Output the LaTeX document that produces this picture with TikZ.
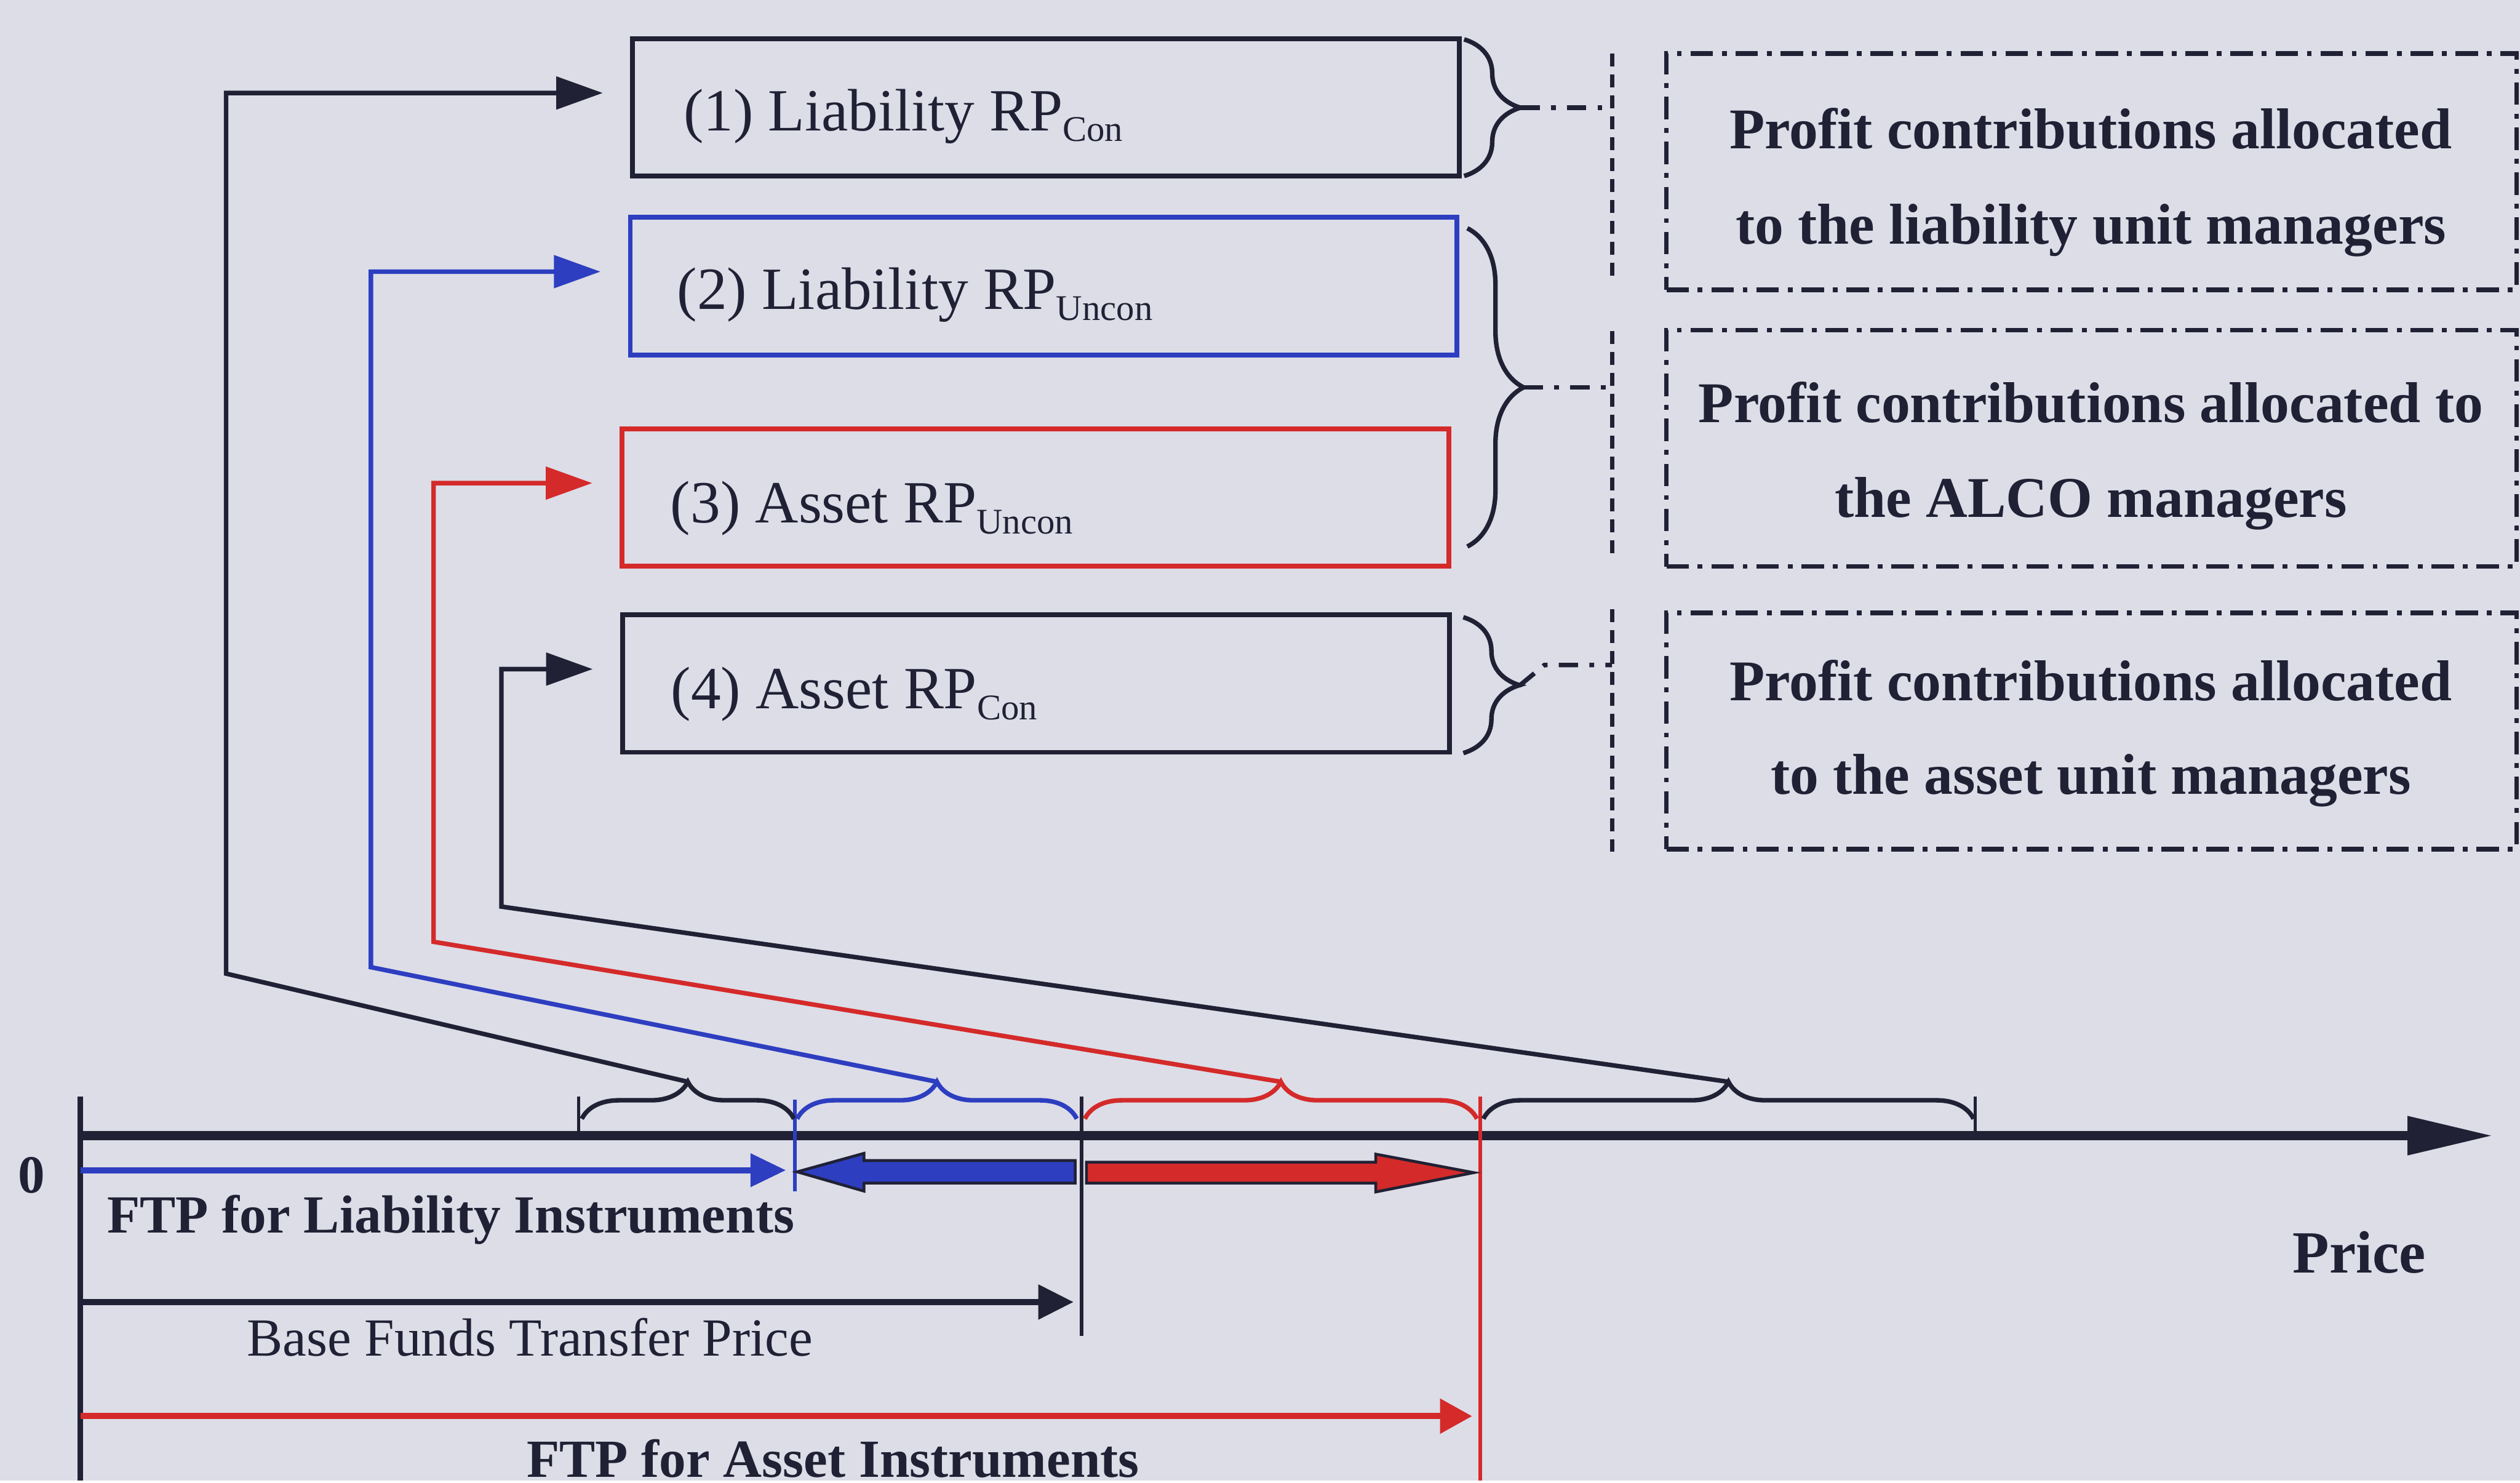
\documentclass[tikz,border=0pt]{standalone}
\usepackage{fontspec}
\setmainfont{Liberation Serif}
\usetikzlibrary{arrows.meta,decorations.pathreplacing}

\definecolor{ink}{RGB}{32,33,52}
\definecolor{lblue}{RGB}{45,62,192}
\definecolor{lred}{RGB}{212,42,42}
\definecolor{paper}{RGB}{220,221,231}

% small lowered subscript used in the RP labels
\newcommand\rpsub[1]{{\fontsize{6.4}{7}\selectfont\raisebox{-1.9pt}{#1}}}

\begin{document}
\begin{tikzpicture}[x=0.1mm,y=-0.1mm,
  conn/.style={line width=0.8pt},
  rpbox/.style={draw, line width=0.85pt, minimum width=51.45mm,
    minimum height=8.55mm, inner sep=0, outer sep=0},
  notebox/.style={draw=ink, line width=0.8pt,
    dash pattern=on 1.4mm off 0.55mm on 0.3mm off 0.55mm,
    minimum width=52.9mm, minimum height=14.7mm, inner sep=0, outer sep=0},
  dashdot/.style={draw=ink, line width=0.8pt,
    dash pattern=on 1.2mm off 0.7mm on 0.3mm off 0.7mm},
  sepline/.style={draw=ink, line width=0.75pt, dash pattern=on 0.8mm off 0.5mm},
  lbl/.style={inner sep=0, text=ink, anchor=base west,
    font=\fontsize{10.6}{12}\selectfont},
  note/.style={inner sep=0, text=ink, anchor=base,
    font=\fontsize{10.2}{12}\selectfont\bfseries},
  axtext/.style={inner sep=0, text=ink, font=\fontsize{9.5}{11}\selectfont},
  brc/.style={decorate, decoration={brace, amplitude=2.3mm}, line width=0.8pt},
  rbrc/.style={decorate, decoration={brace, amplitude=3.5mm}, line width=0.8pt, draw=ink},
  tick/.style={line width=0.6pt},
  ftp/.style={line width=1.1pt},
  fat/.style={draw=ink, line width=0.5pt, line join=miter},
  linehead/.style={-{Triangle[length=2.9mm,width=2mm]}}
]

% page
\fill[paper] (0,0) rectangle (1568,921);

% ---- the four risk-premium boxes ----
\node[rpbox, draw=ink]   (b1) at (650.85,66.85) {};
\node[rpbox, draw=lblue] (b2) at (649.4,178) {};
\node[rpbox, draw=lred]  (b3) at (644.3,309.55) {};
\node[rpbox, draw=ink]   (b4) at (644.55,425.25) {};

\node[lbl] (l1) at ([shift={(31,14.35)}]b1.west)   {(1) Liability RP\rpsub{Con}};
\node[lbl] (l2) at ([shift={(28.5,14.5)}]b2.west)  {(2) Liability RP\rpsub{Uncon}};
\node[lbl] (l3) at ([shift={(29.5,15.75)}]b3.west) {(3) Asset RP\rpsub{Uncon}};
\node[lbl] (l4) at ([shift={(29.5,15.75)}]b4.west) {(4) Asset RP\rpsub{Con}};

% ---- braces grouping the boxes ----
\draw[rbrc] (911,24.5) -- (911,109.5);
\draw[rbrc] (913,142) -- (913,340);
\draw[rbrc] (910.5,384) -- (910.5,468.5);

\coordinate (r1) at (946,67);
\coordinate (r2) at (948,241);
\coordinate (r3) at (945.5,426.5);
\coordinate (r3k) at (961,413.7);
\coordinate (s1) at (1003,67);
\coordinate (s2) at (1003,241);
\coordinate (s3) at (1003,413.7);

\draw[dashdot] (r1) -- (s1);
\draw[dashdot] (r2) -- (s2);
\draw[dashdot] (r3) -- (r3k) -- (s3);

% separators in front of the allocation boxes
\draw[sepline] (1003,33.5) -- (1003,173);
\draw[sepline] (1003,206) -- (1003,348);
\draw[sepline] (1003,379) -- (1003,531);

% ---- allocation boxes ----
\node[notebox] (n1) at (1301.35,106.75) {};
\node[notebox] (n2) at (1301.35,279) {};
\node[notebox] (n3) at (1301.35,454.75) {};

\node[note] (n1a) at (1301,92.4)  {Profit contributions allocated};
\node[note] (n1b) at (1301,151.7) {to the liability unit managers};
\node[note] (n2a) at (1301,262.9) {Profit contributions allocated to};
\node[note] (n2b) at (1301,321.8) {the ALCO managers};
\node[note] (n3a) at (1301,435.8) {Profit contributions allocated};
\node[note] (n3b) at (1301,494)   {to the asset unit managers};

% ---- price axis ----
\coordinate (o)  at (50,706.5);
\coordinate (pe) at (1551,706.5);
\draw[ink, line width=1.56pt, -{Triangle[length=5.3mm,width=2.3mm]}] (o) -- (pe);
\draw[ink, line width=0.9pt] (50,682) -- (50,921);

\node[axtext, font=\fontsize{9.5}{11}\selectfont\bfseries, anchor=base] (zero) at (19.5,742) {0};
\node[axtext, font=\fontsize{10.6}{12}\selectfont\bfseries, anchor=base west] (price) at (1426,792) {Price};

% tick marks
\draw[tick, ink]   (360,682) -- (360,706);
\draw[tick, lblue] (494.5,684) -- (494.5,741);
\draw[tick, ink]   (673,682) -- (673,831);
\draw[tick, lred]  (921,682) -- (921,921);
\draw[tick, ink]   (1229,682) -- (1229,706);

% braces on the axis
\draw[brc, ink]   (362,696) -- (494,696);
\draw[brc, lblue] (496,696) -- (670,696);
\draw[brc, lred]  (675,696) -- (919,696);
\draw[brc, ink]   (923,696) -- (1228,696);

\coordinate (t1) at (428,673);
\coordinate (t2) at (583,673);
\coordinate (t3) at (797,673);
\coordinate (t4) at (1075.5,673);

% ---- connectors from the axis braces to the boxes ----
\coordinate (k1) at (140.7,605.7);
\coordinate (k2) at (230.8,601.7);
\coordinate (k3) at (269.8,585.9);
\coordinate (k4) at (312,564);

\draw[conn, ink, linehead]   (t1) -- (k1) |- ([shift={(-18.5,-9)}]b1.west);
\draw[conn, lblue, linehead] (t2) -- (k2) |- ([shift={(-18.5,-9)}]b2.west);
\draw[conn, lred, linehead]  (t3) -- (k3) |- ([shift={(-18.5,-9)}]b3.west);
\draw[conn, ink, linehead]   (t4) -- (k4) |- ([shift={(-18.5,-9)}]b4.west);

% ---- transfer price arrows ----
\coordinate (fl) at (489,728);
\coordinate (fb) at (668,810);
\coordinate (fa) at (916,881);
\draw[ftp, lblue, -{Triangle[length=2.2mm,width=2mm]}]   (50,728) -- (fl);
\draw[ftp, ink,   -{Triangle[length=2.2mm,width=2.1mm]}] (50,810) -- (fb);
\draw[ftp, lred,  -{Triangle[length=2mm,width=2.1mm]}]   (50,881) -- (fa);

% wide spread arrows either side of the base price
\draw[fat, fill=lblue] (496,729) -- (537.6,717.5) -- (537.6,722) -- (669,722)
  -- (669,736) -- (537.6,736) -- (537.6,741) -- cycle;
\draw[fat, fill=lred] (917,729.5) -- (856,718) -- (856,723) -- (676,723)
  -- (676,736) -- (856,736) -- (856,741.5) -- cycle;

% ---- axis captions ----
\node[axtext, font=\fontsize{9.5}{11}\selectfont\bfseries, anchor=base west] (cl) at (66,767) {FTP for Liability Instruments};
\node[axtext, anchor=base west] (cb) at (153,843.5) {Base Funds Transfer Price};
\node[axtext, font=\fontsize{9.5}{11}\selectfont\bfseries, anchor=base west] (ca) at (327,918.8) {FTP for Asset Instruments};

\end{tikzpicture}
\end{document}
